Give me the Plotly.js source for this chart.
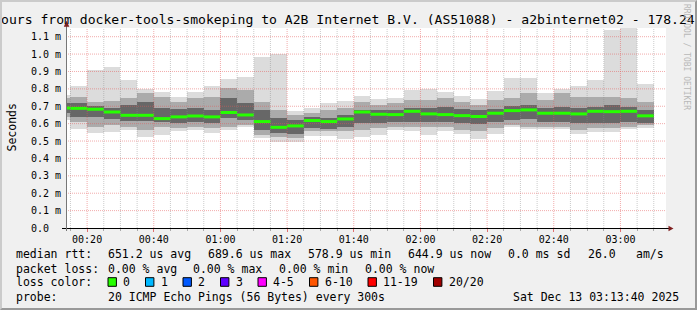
<!DOCTYPE html>
<html><head><meta charset="utf-8">
<script src="https://cdn.plot.ly/plotly-3.0.1.min.js"></script>
<style>
html,body{margin:0;padding:0;background:#f0f0f0;}
#wrap{position:relative;width:697px;height:310px;overflow:hidden;}
#chart{width:697px;height:310px;}
#frame{position:absolute;left:0;top:0;width:697px;height:310px;box-sizing:border-box;border-top:2px solid #cbcbcb;border-left:2px solid #cbcbcb;border-right:2px solid #999;border-bottom:2px solid #999;pointer-events:none;}
</style></head><body>
<div id="wrap"><div id="chart"></div><div id="frame"></div></div>
<script>
// ---- data (ms) ----
const slotStart = ['00:10','00:15','00:20','00:25','00:30','00:35','00:40','00:45','00:50','00:55',
  '01:00','01:05','01:10','01:15','01:20','01:25','01:30','01:35','01:40','01:45','01:50','01:55',
  '02:00','02:05','02:10','02:15','02:20','02:25','02:30','02:35','02:40','02:45','02:50','02:55',
  '03:00','03:05'];
const rttMax = [0.765,0.817,0.908,0.928,0.851,0.798,0.782,0.752,0.782,0.817,
  0.857,0.870,0.985,1.000,0.675,0.688,0.717,0.732,0.759,0.742,0.746,0.794,
  0.798,0.782,0.759,0.742,0.788,0.864,0.864,0.778,0.798,0.817,0.851,1.138,
  1.148,0.828];
const hiMid = [0.746,0.755,0.727,0.732,0.746,0.775,0.755,0.727,0.746,0.755,
  0.803,0.794,0.727,0.679,0.650,0.660,0.679,0.688,0.727,0.708,0.717,0.736,
  0.736,0.746,0.727,0.708,0.736,0.746,0.775,0.736,0.775,0.755,0.755,0.755,
  0.746,0.727];
const hiCore = [0.717,0.717,0.702,0.688,0.708,0.727,0.688,0.683,0.688,0.679,
  0.746,0.717,0.679,0.631,0.622,0.637,0.631,0.650,0.679,0.679,0.679,0.688,
  0.688,0.694,0.683,0.679,0.683,0.702,0.708,0.688,0.698,0.688,0.698,0.708,
  0.698,0.679];
const medianRtt = [0.690,0.688,0.683,0.667,0.648,0.648,0.629,0.639,0.644,0.639,
  0.664,0.650,0.612,0.579,0.587,0.618,0.612,0.627,0.667,0.654,0.652,0.671,
  0.656,0.652,0.646,0.641,0.660,0.675,0.679,0.660,0.660,0.656,0.671,0.669,
  0.671,0.645];
const loCore = [0.660,0.637,0.637,0.625,0.618,0.618,0.612,0.602,0.612,0.602,
  0.631,0.622,0.564,0.545,0.541,0.574,0.568,0.583,0.602,0.602,0.612,0.612,
  0.612,0.612,0.602,0.599,0.612,0.622,0.625,0.612,0.612,0.602,0.602,0.602,
  0.612,0.602];
const loMid = [0.637,0.612,0.583,0.593,0.583,0.564,0.583,0.574,0.583,0.574,
  0.583,0.593,0.535,0.526,0.516,0.555,0.555,0.555,0.564,0.574,0.583,0.583,
  0.583,0.583,0.564,0.555,0.574,0.593,0.583,0.583,0.583,0.564,0.574,0.574,
  0.583,0.593];
const rttMin = [0.622,0.572,0.549,0.553,0.564,0.526,0.535,0.555,0.564,0.545,
  0.564,0.583,0.516,0.497,0.497,0.530,0.530,0.514,0.526,0.535,0.564,0.560,
  0.535,0.560,0.541,0.514,0.541,0.579,0.568,0.572,0.568,0.541,0.553,0.553,
  0.568,0.574];

const yTickVals = [0,0.1,0.2,0.3,0.4,0.5,0.6,0.7,0.8,0.9,1.0,1.1];
const yTickText = ['0.0\u00a0\u00a0','0.1 m','0.2 m','0.3 m','0.4 m','0.5 m','0.6 m','0.7 m','0.8 m','0.9 m','1.0 m','1.1 m'];
const xTickLabels = ['00:20','00:40','01:00','01:20','01:40','02:00','02:20','02:40','03:00'];

const lossLabels = ['0','1','2','3','4-5','6-10','11-19','20/20'];
const lossColors = ['#26ff00','#00b8ff','#0059ff','#5e00ff','#ff00ff','#ff5500','#ff0000','#a10000'];

const titleText = 'ours from docker-tools-smokeping to A2B Internet B.V. (AS51088) - a2binternet02 - 178.24';
const legendRows = [
  [['median rtt:',16.4],['651.2 us avg',107.6],['689.6 us max',208],['578.9 us min',307.6],['644.9 us now',407.6],['0.0 ms sd',507.6],['26.0',587.6],['am/s',635.6]],
  [['packet loss:',16.4],['0.00 % avg',107.6],['0.00 % max',193.3],['0.00 % min',279.1],['0.00 % now',364.9]],
  [['loss color:',16.4]],
  [['probe:',16.4],['20 ICMP Echo Pings (56 Bytes) every 300s',107.6],['Sat Dec 13 03:13:40 2025',513.3]]
];
const rangeStart = '00:13:40', rangeEnd = '03:13:40';
const STEP = 300000;

// ---- helpers ----
function toMs(t){const p=t.split(':').map(Number);return Date.UTC(2025,11,13,p[0],p[1],p[2]||0);}
const L=66,R=31,T=28,B=82,W=697-L-R,H=310-T-B,PB=310-B;
const px = x => (x-L)/W, py = y => (PB-y)/H;
const mono = 'DejaVu Sans Mono';

const xs = slotStart.map(toMs);
function band(lo,hi,color){
  return {type:'bar',x:xs,base:lo,y:hi.map((h,i)=>h-lo[i]),width:STEP,offset:0,
    marker:{color:color,line:{width:0}},hoverinfo:'skip',showlegend:false};
}
const segX=[],segY=[];
xs.forEach((x,i)=>{segX.push(x,x+STEP,null);segY.push(medianRtt[i],medianRtt[i],null);});

const traces = [
  band(rttMin,rttMax,'#dcdcdc'),
  band(loMid,hiMid,'#ababab'),
  band(loCore,hiCore,'#676767'),
  {type:'scatter',mode:'lines',x:segX,y:segY,line:{color:lossColors[0],width:3},hoverinfo:'skip',showlegend:false}
];

const RED_GRID='rgba(230,90,90,0.5)', GRAY_GRID='rgba(140,140,140,0.45)';
const shapes=[];
for(let t=toMs('00:15');t<=toMs('03:10');t+=STEP){
  const major = ((t-toMs('00:00'))/60000)%20===0;
  shapes.push({type:'line',layer:'above',xref:'x',yref:'paper',x0:t,x1:t,y0:0,y1:1,
    line:{color:major?RED_GRID:GRAY_GRID,width:1,dash:'1px,1px'}});
}
yTickVals.slice(1).forEach(v=>shapes.push({type:'line',layer:'above',xref:'paper',yref:'y',x0:0,x1:1,y0:v,y1:v,
  line:{color:RED_GRID,width:1,dash:'1px,1px'}}));
// axis lines & arrows
shapes.push({type:'line',layer:'above',xref:'paper',yref:'paper',x0:px(62),x1:px(669),y0:py(228.5),y1:py(228.5),line:{color:'#000',width:1}});
shapes.push({type:'line',layer:'above',xref:'paper',yref:'paper',x0:px(66.5),x1:px(66.5),y0:py(231),y1:py(24),line:{color:'#777',width:1}});
shapes.push({type:'path',layer:'above',xref:'paper',yref:'paper',
  path:`M ${px(668.5)} ${py(225.7)} L ${px(673.5)} ${py(228.5)} L ${px(668.5)} ${py(231.2)} Z`,
  fillcolor:'#7f1f1f',line:{width:0}});
shapes.push({type:'path',layer:'above',xref:'paper',yref:'paper',
  path:`M ${px(63.8)} ${py(26.7)} L ${px(66.5)} ${py(20.7)} L ${px(69.3)} ${py(26.7)} Z`,
  fillcolor:'#7f1f1f',line:{width:0}});

// legend
const annotations=[];
const rowY=[254.3,268.5,282.2,296.7];
legendRows.forEach((row,r)=>row.forEach(([txt,x])=>annotations.push({
  xref:'paper',yref:'paper',x:px(x),y:py(rowY[r]),xanchor:'left',yanchor:'middle',showarrow:false,
  text:txt,font:{family:mono,size:11.5,color:'#000'},borderpad:0,borderwidth:0})));
let bx=108;
lossLabels.forEach((lab,i)=>{
  shapes.push({type:'rect',xref:'paper',yref:'paper',x0:px(bx),x1:px(bx+8.4),y0:py(286.3),y1:py(277.7),
    fillcolor:lossColors[i],line:{color:'#000',width:1},layer:'above'});
  const lx=bx+15.1;
  annotations.push({xref:'paper',yref:'paper',x:px(lx),y:py(rowY[2]),xanchor:'left',yanchor:'middle',showarrow:false,
    text:lab,font:{family:mono,size:11.5,color:'#000'},borderpad:0,borderwidth:0});
  bx = lx + lab.length*7 + 15.4;
});
annotations.push({xref:'paper',yref:'paper',x:px(11),y:py(127.5),xanchor:'center',yanchor:'middle',textangle:-90,showarrow:false,
  text:'Seconds',font:{family:mono,size:11.5,color:'#000'},borderpad:0});
annotations.push({xref:'paper',yref:'paper',x:px(687),y:py(57),xanchor:'center',yanchor:'middle',textangle:90,showarrow:false,
  text:'RRDTOOL / TOBI OETIKER',font:{family:mono,size:8,color:'#b8b8b8'},borderpad:0});

const layout = {
  width:697,height:310,margin:{l:L,r:R,t:T,b:B},
  paper_bgcolor:'#f0f0f0',plot_bgcolor:'#ffffff',
  barmode:'overlay',bargap:0,showlegend:false,
  title:{text:titleText,xref:'container',yref:'container',x:1/697,xanchor:'left',y:1-19/310,yanchor:'middle',
    font:{family:mono,size:13.1,color:'#000'}},
  xaxis:{type:'date',range:[toMs(rangeStart),toMs(rangeEnd)],tickmode:'array',
    tickvals:xTickLabels.map(toMs),ticktext:xTickLabels,showgrid:false,zeroline:false,showline:false,
    ticks:'outside',ticklen:3,tickcolor:'#e07070',tickwidth:1,ticklabelstandoff:-1,
    minor:{tickmode:'linear',tick0:toMs('00:15'),dtick:STEP,ticks:'outside',ticklen:2,tickcolor:'#aaaaaa',showgrid:false},
    tickfont:{family:mono,size:10,color:'#000'},fixedrange:true},
  yaxis:{range:[0,1.15],tickmode:'array',tickvals:yTickVals,ticktext:yTickText,showgrid:false,zeroline:false,
    showline:false,ticks:'',ticklabelstandoff:4,tickfont:{family:mono,size:10,color:'#000'},fixedrange:true},
  shapes:shapes,annotations:annotations
};
Plotly.newPlot('chart',traces,layout,{staticPlot:true,displayModeBar:false});
</script></body></html>
